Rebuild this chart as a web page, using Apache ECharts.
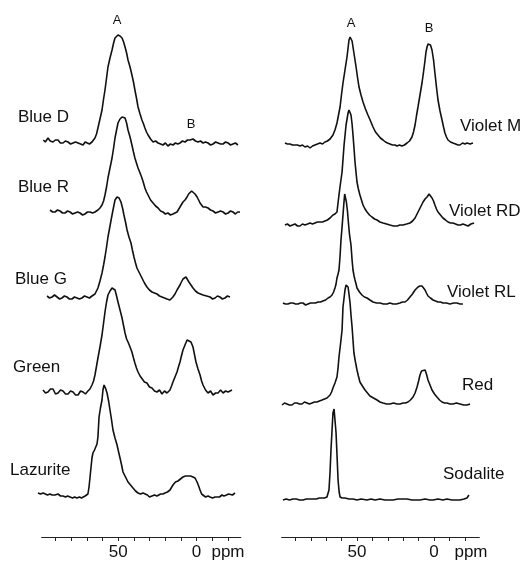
<!DOCTYPE html>
<html>
<head>
<meta charset="utf-8">
<script src="https://cdn.jsdelivr.net/npm/echarts@6/dist/echarts.min.js"></script>
<style>
  html, body { margin: 0; padding: 0; background: #fff; }
  #chart { width: 525px; height: 561px; }
</style>
</head>
<body>
<div id="chart"></div>
<script>
// Stacked NMR spectra: two panels of samples, chemical shift in ppm (reversed axis).

const leftSamples = ['Blue D', 'Blue R', 'Blue G', 'Green', 'Lazurite'];
const rightSamples = ['Violet M', 'Violet RD', 'Violet RL', 'Red', 'Sodalite'];
const peakNames = ['A', 'B'];
const labelTicks = [50, 0];
const minorTicks = [90, 80, 70, 60, 50, 40, 30, 20, 10, 0, -10, -20];
const unitName = 'ppm';

// [shift (ppm), intensity (a.u., baseline = 0)]
const blueD = [[97.9,3],[96.6,1],[94.9,5],[93.5,2],[91.7,1],[90.2,3],[88.5,3],[87.0,0],[85.3,0],[83.8,2],[82.1,1],[80.5,-1],[78.9,0],[77.3,1],[75.7,0],[74.1,-1],[72.5,-2],[71.2,1],[70.0,0],[68.4,-1],[66.8,1],[65.8,2],[64.9,5],[63.9,9],[63.0,15],[61.7,24],[60.4,33],[59.5,43],[58.5,53],[57.5,65],[56.6,76],[55.3,85],[54.0,93],[53.0,100],[52.1,105],[51.1,107],[50.2,108],[48.9,107],[47.6,105],[46.6,101],[45.7,96],[44.7,90],[43.8,83],[42.5,76],[41.3,68],[40.3,61],[39.4,53],[38.4,45],[37.4,36],[36.1,29],[34.9,23],[33.9,19],[33.0,15],[32.0,11],[31.0,8],[29.4,4],[27.8,1],[26.2,2],[24.6,0],[23.0,-1],[21.5,-2],[19.9,0],[18.3,-3],[16.7,-1],[15.1,-2],[13.5,0],[12.0,-1],[10.6,0],[9.0,2],[7.4,1],[5.8,3],[4.2,3],[3.2,5],[2.3,4],[0.7,2],[-0.9,1],[-2.5,2],[-4.1,0],[-5.7,1],[-7.3,0],[-8.9,-2],[-10.5,-1],[-12.1,1],[-13.7,0],[-15.3,-1],[-16.9,-1],[-18.5,1],[-20.1,0],[-21.7,-2],[-23.2,-1],[-24.8,0],[-26.4,-2]];

const blueR = [[93.6,3],[92.0,1],[90.4,1],[88.8,3],[87.2,2],[85.6,0],[84.0,0],[82.4,2],[80.8,1],[79.2,-1],[77.6,0],[76.0,1],[74.4,0],[72.8,-2],[71.3,-1],[69.7,1],[68.1,1],[66.5,0],[64.9,1],[64.0,2],[63.0,3],[61.7,5],[60.4,8],[59.4,12],[58.5,18],[57.5,26],[56.6,35],[55.3,45],[54.0,55],[53.0,65],[52.1,75],[51.1,83],[50.2,90],[48.9,94],[47.6,96],[46.6,96],[45.7,95],[44.7,90],[43.8,83],[42.5,76],[41.3,68],[40.3,61],[39.4,55],[38.4,50],[37.4,45],[36.1,40],[34.9,35],[33.9,30],[33.0,25],[32.0,21],[31.0,18],[29.4,13],[27.8,10],[26.2,7],[24.6,5],[23.0,2],[21.5,1],[19.9,-1],[18.3,0],[16.7,-2],[15.1,-1],[13.8,0],[12.5,1],[11.6,3],[10.6,6],[9.7,8],[8.7,11],[7.4,13],[6.1,16],[5.1,19],[4.2,21],[3.2,22],[2.3,21],[1.0,19],[-0.3,16],[-1.3,13],[-2.2,10],[-3.2,8],[-4.1,6],[-5.7,6],[-7.3,5],[-8.9,3],[-10.5,2],[-12.1,0],[-13.7,1],[-15.3,2],[-16.9,1],[-18.5,-1],[-20.1,0],[-21.7,2],[-23.2,1],[-24.8,-1],[-26.2,1],[-27.7,1]];

const blueG = [[95.5,2],[93.9,0],[92.3,1],[90.7,3],[89.1,1],[87.5,-1],[86.0,0],[84.4,2],[82.8,1],[81.2,-1],[79.6,-1],[78.0,1],[76.4,0],[74.8,-1],[73.2,0],[71.6,2],[70.0,1],[68.4,0],[66.8,2],[65.8,3],[64.9,4],[64.0,6],[63.0,10],[61.7,17],[60.4,25],[59.4,33],[58.5,41],[57.5,51],[56.6,61],[55.3,72],[54.0,83],[53.0,91],[52.1,98],[50.8,101],[49.5,100],[48.3,96],[47.3,90],[46.4,83],[45.4,76],[44.4,68],[43.2,61],[41.9,55],[41.0,48],[40.0,41],[39.0,35],[38.1,30],[36.5,25],[34.9,20],[33.3,15],[31.7,11],[30.1,8],[28.5,6],[26.9,5],[25.3,4],[23.7,2],[22.1,1],[20.5,0],[18.9,-1],[17.0,-2],[16.0,0],[15.1,1],[13.8,4],[12.5,8],[11.6,10],[10.6,13],[9.7,16],[8.7,19],[7.7,20],[6.8,21],[5.8,19],[4.9,16],[3.6,13],[2.3,10],[0.7,7],[-0.9,5],[-2.5,4],[-4.1,3],[-6.4,2],[-8.6,1],[-10.2,-1],[-11.8,0],[-13.3,2],[-14.9,1],[-16.5,-1],[-18.1,0],[-19.7,2],[-21.3,1]];

const green = [[98.1,2],[96.5,-1],[94.9,0],[93.3,3],[91.7,3],[90.1,-2],[88.5,-1],[86.9,2],[85.3,1],[83.7,-2],[82.1,-2],[80.5,1],[78.9,0],[77.3,-3],[75.7,-3],[74.1,1],[72.5,0],[71.0,-2],[69.4,1],[68.1,3],[66.8,7],[65.8,11],[64.9,17],[64.0,25],[63.0,34],[61.7,45],[60.4,57],[59.4,69],[58.5,80],[57.5,90],[56.6,97],[55.3,101],[54.0,104],[53.0,104],[52.1,102],[51.1,96],[50.2,90],[48.9,82],[47.6,74],[46.6,66],[45.7,59],[44.7,53],[43.8,50],[42.5,45],[41.3,40],[40.3,34],[39.4,29],[38.4,24],[37.4,20],[36.1,16],[34.9,14],[33.3,10],[31.7,9],[30.1,5],[28.5,4],[26.9,1],[25.3,0],[23.7,2],[22.1,-2],[20.5,1],[18.9,-1],[17.9,0],[17.0,2],[16.0,6],[15.1,10],[13.8,15],[12.5,20],[11.6,25],[10.6,30],[9.7,36],[8.7,42],[7.4,47],[6.1,52],[4.9,54],[3.6,50],[2.3,45],[1.3,37],[0.4,30],[-0.9,23],[-2.2,17],[-3.2,11],[-4.1,7],[-5.7,2],[-7.3,-1],[-8.9,1],[-10.5,-3],[-12.1,-1],[-13.7,-1],[-15.3,2],[-16.9,-1],[-18.5,1],[-20.1,0],[-21.3,-2],[-22.6,2]];

const lazurite = [[101.3,3],[99.7,2],[98.0,3],[96.8,2],[95.2,1],[93.6,2],[92.3,1],[90.4,1],[88.5,2],[86.9,0],[85.3,0],[83.7,-1],[82.4,0],[80.8,-1],[79.2,-2],[77.9,-1],[76.4,-2],[74.8,-1],[73.5,-2],[72.5,-1],[71.2,0],[70.0,0],[69.4,2],[68.7,9],[68.1,18],[67.4,29],[66.8,38],[66.2,43],[65.2,46],[64.2,48],[63.6,52],[63.0,59],[62.3,79],[61.4,88],[60.4,96],[59.8,106],[59.1,111],[58.2,108],[57.2,103],[56.2,95],[55.3,86],[54.3,76],[53.4,66],[52.1,58],[50.8,51],[49.8,44],[48.9,38],[47.9,31],[47.0,24],[45.4,19],[43.8,14],[42.2,11],[40.6,8],[39.0,5],[37.4,3],[35.8,2],[34.2,3],[33.0,2],[31.4,1],[30.1,-1],[28.5,0],[26.9,1],[25.3,0],[24.6,1],[23.0,2],[21.5,2],[20.2,3],[18.6,4],[17.0,6],[16.0,8],[15.1,11],[13.5,14],[11.9,15],[10.3,17],[8.7,19],[7.1,20],[5.5,20],[3.9,20],[2.3,19],[1.0,18],[-0.3,14],[-1.3,10],[-2.2,6],[-3.2,2],[-4.1,0],[-5.7,-1],[-7.3,0],[-8.6,-1],[-10.2,-2],[-11.8,-1],[-13.0,0],[-14.6,-1],[-16.2,1],[-17.5,0],[-19.1,1],[-20.4,2],[-21.3,2],[-22.9,1],[-24.5,3]];

const violetM = [[96.8,1],[95.2,0],[93.5,0],[91.9,-1],[90.3,-1],[88.6,-1],[87.0,-2],[85.4,-1],[83.8,-3],[82.1,-2],[80.5,-4],[78.9,-2],[77.3,-1],[75.7,0],[74.0,1],[72.4,0],[70.8,2],[69.2,3],[67.5,5],[66.5,7],[65.6,9],[64.3,14],[63.0,21],[62.0,29],[61.0,37],[60.1,49],[59.1,61],[57.8,74],[56.5,87],[55.8,96],[55.2,104],[54.5,107],[53.9,107],[53.2,103],[52.6,97],[51.6,87],[50.6,77],[49.7,67],[48.7,57],[47.4,49],[46.1,42],[44.5,35],[42.9,29],[41.2,23],[39.6,17],[38.0,12],[36.4,9],[34.8,6],[33.1,4],[31.5,2],[30.2,1],[28.6,0],[27.0,-1],[25.3,-1],[24.0,-2],[22.4,-1],[20.8,-2],[19.2,-1],[17.5,1],[15.9,3],[14.3,7],[13.3,12],[12.3,19],[11.4,28],[10.4,37],[9.1,49],[7.8,61],[6.8,72],[5.8,84],[5.2,92],[4.5,97],[3.9,100],[3.2,101],[2.3,99],[1.3,94],[0.3,84],[-0.6,71],[-1.6,57],[-2.6,44],[-3.9,33],[-5.2,24],[-6.2,17],[-7.1,11],[-8.1,7],[-9.1,4],[-10.7,2],[-12.3,1],[-14.0,0],[-15.6,-1],[-16.9,-1],[-18.5,1],[-20.1,0],[-21.4,1],[-23.4,0],[-25.3,1]];

const violetRD = [[96.8,0],[95.2,1],[93.5,-1],[91.9,0],[90.3,1],[88.6,-1],[87.0,-1],[85.4,1],[83.8,0],[82.1,1],[80.5,2],[78.9,1],[77.3,2],[75.7,3],[74.0,3],[72.4,3],[70.8,4],[69.2,5],[67.5,7],[65.6,10],[64.3,11],[63.0,13],[61.7,30],[60.7,42],[59.7,53],[58.4,80],[57.1,100],[55.8,112],[55.2,115],[54.5,113],[53.9,110],[53.2,101],[52.6,90],[51.9,76],[51.3,63],[50.6,52],[50.0,43],[49.1,36],[48.1,30],[47.1,25],[46.1,20],[44.8,16],[43.5,13],[41.9,10],[40.3,8],[38.6,6],[37.0,5],[35.1,3],[33.1,2],[30.8,1],[28.6,0],[26.3,-1],[24.0,-1],[22.1,0],[20.1,0],[17.8,1],[15.6,2],[13.9,4],[12.3,7],[11.0,11],[9.7,15],[8.4,19],[7.1,23],[5.8,26],[4.5,28],[3.9,30],[3.2,31],[2.3,30],[1.3,27],[0.3,24],[-0.6,20],[-1.6,16],[-2.6,13],[-4.2,10],[-5.8,7],[-7.5,5],[-9.1,3],[-10.7,2],[-12.3,2],[-14.0,1],[-15.6,0],[-17.2,0],[-18.8,1],[-20.5,0],[-22.1,-1],[-24.0,1],[-26.0,2]];

const violetRL = [[98.1,1],[96.5,0],[94.8,0],[93.2,1],[91.6,1],[89.9,0],[88.3,0],[86.7,1],[85.1,1],[83.4,-1],[81.8,0],[80.2,1],[78.6,1],[77.0,1],[75.3,2],[73.7,2],[72.1,3],[70.4,4],[68.8,6],[67.5,7],[66.2,9],[65.2,12],[64.3,16],[63.6,20],[63.0,26],[62.3,30],[61.7,34],[61.0,48],[60.4,64],[59.7,77],[59.1,89],[58.4,103],[58.0,110],[57.5,108],[56.9,102],[56.2,93],[55.5,80],[54.9,70],[53.9,59],[53.2,44],[52.6,34],[51.9,28],[51.3,24],[50.6,20],[50.0,16],[48.4,12],[46.8,9],[45.2,7],[43.5,6],[41.6,4],[39.6,2],[37.3,1],[35.1,1],[32.8,0],[30.5,0],[28.6,1],[26.6,0],[24.4,0],[22.1,1],[20.5,2],[18.8,2],[17.2,4],[15.6,7],[14.0,10],[12.3,14],[11.4,16],[10.4,17],[9.1,18],[7.8,18],[6.8,16],[5.8,14],[4.9,11],[3.9,8],[2.3,6],[0.6,4],[-1.0,3],[-2.6,2],[-4.2,2],[-5.8,1],[-8.1,1],[-10.4,0],[-12.7,1],[-14.9,1],[-16.9,0],[-18.8,0]];

const red = [[98.7,-1],[97.1,1],[95.5,0],[93.9,-1],[92.2,-1],[90.6,1],[89.0,1],[87.4,0],[85.7,0],[84.1,2],[82.5,1],[80.9,0],[79.2,1],[77.6,2],[76.0,2],[74.4,3],[72.7,4],[71.1,5],[69.5,6],[68.5,7],[67.5,9],[66.5,12],[65.6,16],[64.3,21],[63.0,27],[62.3,36],[61.7,47],[60.7,60],[59.7,74],[59.1,97],[58.4,106],[57.8,114],[57.1,119],[56.5,121],[55.8,117],[55.2,110],[54.5,101],[53.9,89],[53.2,77],[52.6,64],[52.0,51],[51.0,42],[50.0,34],[49.1,28],[48.1,22],[46.5,18],[44.8,14],[43.2,11],[41.6,8],[39.3,6],[37.0,4],[35.1,2],[33.1,1],[30.8,0],[28.6,0],[26.3,1],[24.0,0],[22.1,0],[20.1,1],[18.5,1],[16.9,2],[15.3,4],[13.6,7],[12.3,11],[11.0,17],[10.0,23],[9.1,29],[8.1,33],[7.1,35],[5.8,34],[4.9,30],[3.9,24],[2.6,19],[1.3,14],[-0.3,10],[-1.9,7],[-3.6,4],[-5.2,2],[-6.8,1],[-8.4,1],[-10.4,0],[-12.3,0],[-14.6,1],[-16.9,0],[-19.2,-1],[-21.4,-1],[-23.4,0]];

const sodalite = [[98.1,0],[96.0,1],[93.8,0],[91.6,1],[89.4,1],[87.3,0],[85.1,0],[82.9,1],[80.7,1],[78.6,1],[76.4,1],[74.5,2],[72.7,2],[71.1,2],[69.5,3],[68.8,5],[68.2,10],[67.5,28],[66.9,50],[66.2,70],[65.6,87],[64.9,91],[64.3,80],[63.6,67],[62.9,42],[62.3,20],[61.6,8],[61.0,3],[59.7,2],[57.8,2],[55.2,1],[52.6,1],[50.0,0],[47.4,1],[43.5,0],[40.9,1],[38.3,0],[35.1,1],[31.8,0],[29.2,0],[26.6,0],[23.4,1],[20.1,1],[17.5,1],[14.3,0],[11.7,0],[9.1,0],[5.8,1],[2.6,0],[0.6,0],[-2.6,1],[-5.8,0],[-8.4,1],[-11.7,0],[-14.9,0],[-16.9,0],[-19.5,1],[-21.4,2],[-22.1,3],[-22.7,5]];

const leftSpectra = [blueD, blueR, blueG, green, lazurite];
const rightSpectra = [violetM, violetRD, violetRL, red, sodalite];

// ---- layout ----
const FONT = '"Liberation Sans", Arial, sans-serif';
const panels = [
  { zero: 196.6, k: 1.566, axisMin: -28.2, axisMax: 98.9,
    baselines: [143, 213, 298, 392, 496],
    names: leftSamples, spectra: leftSpectra,
    nameX: [18, 18, 15, 13, 10], nameY: [117, 187, 279, 367, 470],
    peakPos: [[117, 20], [191, 124]], unitX: 228 },
  { zero: 434, k: 1.54, axisMin: -29.4, axisMax: 98.9,
    baselines: [144, 225, 304, 404, 500],
    names: rightSamples, spectra: rightSpectra,
    nameX: [460, 449, 447, 462, 443], nameY: [126, 211, 292, 385, 474],
    peakPos: [[351, 23], [429, 28]], unitX: 471 }
];
const traceMin = -32, traceMax = 104;
const yMin = -10, yMax = 125;
const axisY = 537;

const grid = [], xAxis = [], yAxis = [], series = [], graphic = [];

panels.forEach(p => {
  p.spectra.forEach((data, i) => {
    const idx = grid.length;
    grid.push({
      left: p.zero - traceMax * p.k, width: (traceMax - traceMin) * p.k,
      top: p.baselines[i] - yMax, height: yMax - yMin
    });
    xAxis.push({ gridIndex: idx, type: 'value', inverse: true, min: traceMin, max: traceMax, show: false });
    yAxis.push({ gridIndex: idx, type: 'value', min: yMin, max: yMax, show: false });
    series.push({
      name: p.names[i], type: 'line', xAxisIndex: idx, yAxisIndex: idx,
      data: data, showSymbol: false, symbol: 'none', clip: false,
      lineStyle: { color: '#111', width: 1.6 }, animation: false
    });
    graphic.push({
      type: 'text', x: p.nameX[i], y: p.nameY[i],
      style: { text: p.names[i], font: '17px ' + FONT, fill: '#111', textVerticalAlign: 'middle' }
    });
  });
  // shift axis
  const idx = grid.length;
  grid.push({
    left: p.zero - p.axisMax * p.k, width: (p.axisMax - p.axisMin) * p.k,
    top: axisY - 10, height: 10
  });
  xAxis.push({
    gridIndex: idx, type: 'value', inverse: true, min: p.axisMin, max: p.axisMax,
    axisLine: { show: true, lineStyle: { color: '#222', width: 1.2 } },
    axisTick: { show: true, customValues: minorTicks, length: 4, lineStyle: { color: '#222', width: 1 } },
    axisLabel: { show: true, customValues: labelTicks, margin: 7, color: '#111', fontSize: 17, fontFamily: FONT },
    splitLine: { show: false }
  });
  yAxis.push({ gridIndex: idx, type: 'value', show: false });
  graphic.push({
    type: 'text', x: p.unitX, y: axisY + 7,
    style: { text: unitName, font: '17px ' + FONT, fill: '#111', textAlign: 'center', textVerticalAlign: 'top' }
  });
  peakNames.forEach((n, j) => {
    graphic.push({
      type: 'text', x: p.peakPos[j][0], y: p.peakPos[j][1],
      style: { text: n, font: '13px ' + FONT, fill: '#111', textAlign: 'center', textVerticalAlign: 'middle' }
    });
  });
});

const chart = echarts.init(document.getElementById('chart'), null, { renderer: 'canvas' });
chart.setOption({
  backgroundColor: '#fff',
  animation: false,
  grid, xAxis, yAxis, series, graphic
});
</script>
</body>
</html>
